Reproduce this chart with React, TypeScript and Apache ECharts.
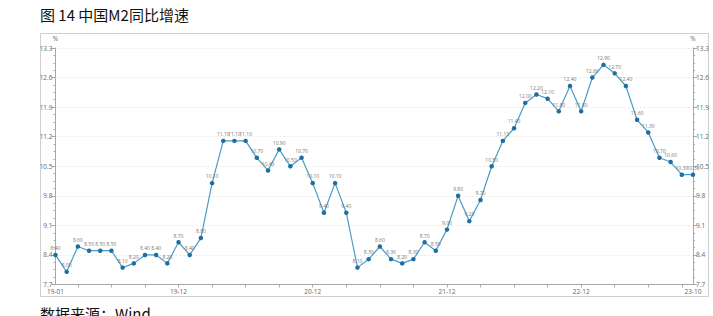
import React, { useEffect, useRef } from "react";
import * as echarts from "echarts";

const categories: string[] = [
  "19-01", "19-02", "19-03", "19-04", "19-05", "19-06", "19-07", "19-08", "19-09", "19-10", "19-11", "19-12",
  "20-01", "20-02", "20-03", "20-04", "20-05", "20-06", "20-07", "20-08", "20-09", "20-10", "20-11", "20-12",
  "21-01", "21-02", "21-03", "21-04", "21-05", "21-06", "21-07", "21-08", "21-09", "21-10", "21-11", "21-12",
  "22-01", "22-02", "22-03", "22-04", "22-05", "22-06", "22-07", "22-08", "22-09", "22-10", "22-11", "22-12",
  "23-01", "23-02", "23-03", "23-04", "23-05", "23-06", "23-07", "23-08", "23-09", "23-10",
];

const m2Growth: number[] = [
  8.4, 8.0, 8.6, 8.5, 8.5, 8.5, 8.1, 8.2, 8.4, 8.4, 8.2, 8.7,
  8.4, 8.8, 10.1, 11.1, 11.1, 11.1, 10.7, 10.4, 10.9, 10.5, 10.7, 10.1,
  9.4, 10.1, 9.4, 8.1, 8.3, 8.6, 8.3, 8.2, 8.3, 8.7, 8.5, 9.0,
  9.8, 9.2, 9.7, 10.5, 11.1, 11.4, 12.0, 12.2, 12.1, 11.8, 12.4, 11.8,
  12.6, 12.9, 12.7, 12.4, 11.6, 11.3, 10.7, 10.6, 10.3, 10.3,
];

const shownLabels: string[] = ["19-01", "19-12", "20-12", "21-12", "22-12", "23-10"];

const yMin = 7.7;
const yMax = 13.3;
const yStep = 0.7;

const titleText = "图 14 中国M2同比增速";
const sourceText = "数据来源：Wind";
const unitText = "%";

export default function App() {
  const ref = useRef<HTMLDivElement>(null);

  useEffect(() => {
    document.body.style.margin = "0";
    if (!ref.current) return;
    const chart = echarts.init(ref.current, undefined, { renderer: "svg" });
    const font = "'Open Sans', 'Noto Sans', sans-serif";
    const axisGray = "#a8a8a8";
    const labelGray = "#666";

    const yAxisBase = {
      type: "value" as const,
      min: yMin,
      max: yMax,
      interval: yStep,
      axisLine: { show: true, lineStyle: { color: axisGray, width: 1 } },
      axisTick: { show: true, length: 4, lineStyle: { color: axisGray } },
      minorTick: { show: true, splitNumber: 4, length: 2, lineStyle: { color: axisGray } },
      axisLabel: {
        color: labelGray,
        fontSize: 6.5,
        fontFamily: font,
        margin: 3,
        formatter: (v: number) => v.toFixed(1),
      },
      nameTextStyle: { color: labelGray, fontSize: 6.5, fontFamily: font },
      nameGap: 6,
      name: unitText,
    };

    chart.setOption({
      animation: false,
      backgroundColor: "#ffffff",
      graphic: [
        {
          type: "text",
          left: 40,
          top: 7,
          style: {
            text: titleText,
            fontSize: 15,
            fontFamily: "'Noto Sans CJK SC', sans-serif",
            fill: "#111",
          },
        },
        {
          type: "rect",
          shape: { x: 40.5, y: 33.5, width: 668, height: 263 },
          style: { fill: "none", stroke: "#cfcfcf", lineWidth: 1 },
          silent: true,
        },
        {
          type: "text",
          left: 40,
          top: 306,
          style: {
            text: sourceText,
            fontSize: 15,
            fontFamily: "'Noto Sans CJK SC', sans-serif",
            fill: "#111",
          },
        },
      ],
      grid: { left: 55.5, right: 20, top: 48, bottom: 31.5, containLabel: false },
      xAxis: {
        type: "category",
        data: categories,
        boundaryGap: false,
        axisLine: { show: true, lineStyle: { color: axisGray, width: 1 } },
        axisTick: {
          show: true,
          length: 3,
          interval: (idx: number) => idx % 3 === 2,
          lineStyle: { color: axisGray },
        },
        axisLabel: {
          color: labelGray,
          fontSize: 6.5,
          fontFamily: font,
          margin: 3,
          interval: (idx: number, val: string) => shownLabels.includes(val),
        },
        splitLine: { show: false },
      },
      yAxis: [
        {
          ...yAxisBase,
          position: "left",
          splitLine: { show: true, lineStyle: { color: "#e4e4e4", type: [2, 2], width: 0.8 } },
        },
        {
          ...yAxisBase,
          position: "right",
          splitLine: { show: false },
        },
      ],
      series: [
        {
          type: "line",
          data: m2Growth,
          yAxisIndex: 0,
          symbol: "circle",
          symbolSize: 4.5,
          lineStyle: { color: "#4a9cc6", width: 1.2 },
          itemStyle: { color: "#1d6fa0" },
          label: {
            show: true,
            position: "top",
            distance: 2,
            fontSize: 5,
            fontFamily: font,
            color: "#777",
            formatter: (p: any) => Number(p.value).toFixed(2),
          },
        },
      ],
    });

    return () => chart.dispose();
  }, []);

  return <div ref={ref} style={{ width: 713, height: 316, position: "absolute", left: 0, top: 0 }} />;
}
